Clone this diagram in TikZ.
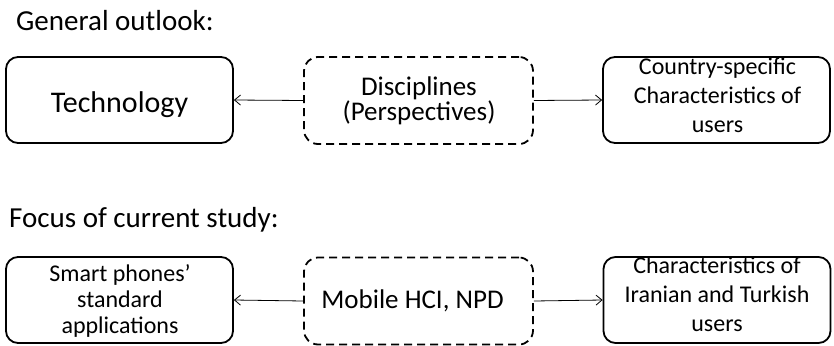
\documentclass[tikz,border=0pt]{standalone}
\usepackage{fontspec}
\setmainfont{Carlito}
\usetikzlibrary{arrows.meta}
\begin{document}
\begin{tikzpicture}[x=1pt,y=-1pt,
  solidbox/.style={draw, line width=1.8pt, rounded corners=12pt, minimum width=227pt, minimum height=86pt, inner sep=0pt},
  dashbox/.style={draw, line width=1.8pt, dash pattern=on 8pt off 5pt, rounded corners=14pt, minimum width=229pt, minimum height=87pt, inner sep=0pt},
  heading/.style={anchor=base west, inner sep=0pt, font=\fontsize{29}{34}\selectfont},
  boxtext/.style={align=center, inner sep=0pt, font=\fontsize{24}{29}\selectfont},
  linktext/.style={anchor=base, inner sep=0pt},
  link/.style={line width=0.8pt, -{Straight Barb[length=6pt, width=10pt, line width=0.8pt]}}]
\useasboundingbox (0,0) rectangle (834,345);

% first row: general outlook
\node[heading] (h1) at (16,31) {General outlook:};
\node[solidbox] (tech) at (119.5,100) {};
\node[linktext, font=\fontsize{30}{34}\selectfont] (techtext) at (119.5,112) {Technology};
\node[dashbox] (disc) at (418.5,100.5) {};
\node[align=center, inner sep=0pt, font=\fontsize{27}{23}\selectfont] (disctext) at (419,101) {Disciplines\\(Perspectives)};
\node[solidbox] (users) at (716.5,100) {};
\node[boxtext] (userstext) at (717.5,95) {Country-specific\\Characteristics of\\users};
\draw[link] (disc.west) -- (tech.east);
\draw[link] (disc.east) -- (users.west);

% second row: focus of current study
\node[heading] (h2) at (9,227) {Focus of current study:};
\node[solidbox] (apps) at (119.5,300) {};
\node[boxtext, font=\fontsize{24}{26}\selectfont] (appstext) at (120,301) {Smart phones'\\standard\\applications};
\node[dashbox] (hci) at (418.5,301) {};
\node[linktext, font=\fontsize{27}{32}\selectfont] (hcitext) at (412.5,308) {Mobile HCI, NPD};
\node[solidbox] (iran) at (717,300) {};
\node[boxtext] (irantext) at (717,294) {Characteristics of\\Iranian and Turkish\\users};
\draw[link] (hci.west) -- (apps.east);
\draw[link] (hci.east) -- (iran.west);
\end{tikzpicture}
\end{document}
